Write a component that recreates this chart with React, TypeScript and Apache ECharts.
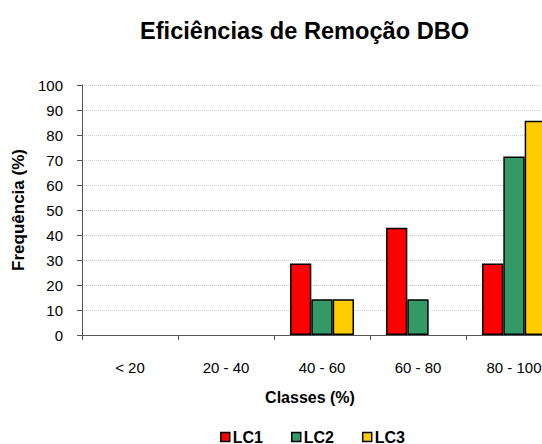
import React, { useEffect, useRef } from "react";
import * as echarts from "echarts";

const categories = ["< 20", "20 - 40", "40 - 60", "60 - 80", "80 - 100"];
const lc1 = [0, 0, 28.6, 42.9, 28.6];
const lc2 = [0, 0, 14.3, 14.3, 71.4];
const lc3 = [0, 0, 14.3, 0, 85.7];
const seriesNames = ["LC1", "LC2", "LC3"];
const seriesColors = ["#FF0000", "#339966", "#FFCC00"];
const yTicks = { min: 0, max: 100, interval: 10 };

const FONT = "Liberation Sans, Arial, sans-serif";
const NARROW = "Liberation Sans Narrow, Arial Narrow, Liberation Sans, sans-serif";

export default function App() {
  const ref = useRef<HTMLDivElement>(null);
  useEffect(() => {
    if (!ref.current) return;
    const chart = echarts.init(ref.current, undefined, { renderer: "svg" });
    const data = [lc1, lc2, lc3];
    chart.setOption({
      animation: false,
      backgroundColor: "#ffffff",
      textStyle: { fontFamily: FONT },
      title: {
        text: "Eficiências de Remoção DBO",
        left: 140,
        top: 19,
        padding: 0,
        textStyle: { fontFamily: FONT, fontSize: 23.6, fontWeight: "bold", color: "#000" },
      },
      legend: {
        left: 220,
        top: 429,
        padding: 0,
        itemWidth: 9,
        itemHeight: 9,
        itemGap: 28,
        data: seriesNames.map((n, i) => ({
          name: n,
          icon: "rect",
          itemStyle: { color: seriesColors[i], borderColor: "#000", borderWidth: 1.5 },
        })),
        textStyle: { fontFamily: FONT, fontSize: 16, fontWeight: "bold", color: "#000", padding: [0, 0, 0, -2] },
      },
      grid: { left: 82, top: 85, width: 480, height: 250 },
      xAxis: {
        type: "category",
        data: categories,
        name: "Classes (%)",
        nameLocation: "middle",
        nameGap: 54,
        nameTextStyle: { fontFamily: FONT, fontSize: 16, fontWeight: "bold", color: "#000", padding: [0, 24, 0, 0] },
        axisLine: { lineStyle: { color: "#555", width: 1 } },
        axisTick: { show: true, alignWithLabel: false, length: 5, lineStyle: { color: "#555" } },
        axisLabel: { color: "#000", fontSize: 15, margin: 25, fontFamily: NARROW },
        splitLine: { show: false },
      },
      yAxis: {
        type: "value",
        min: yTicks.min,
        max: yTicks.max,
        interval: yTicks.interval,
        name: "Frequência (%)",
        nameLocation: "middle",
        nameGap: 52,
        nameRotate: 90,
        nameTextStyle: { fontFamily: FONT, fontSize: 17, fontWeight: "bold", color: "#000" },
        axisLine: { show: true, lineStyle: { color: "#555", width: 1 } },
        axisTick: { show: true, length: 5, lineStyle: { color: "#555" } },
        axisLabel: { color: "#000", fontSize: 15, margin: 19, fontFamily: NARROW },
        splitLine: { show: true, lineStyle: { color: "#d0d0d0", type: "dotted", width: 1 } },
      },
      series: seriesNames.map((n, i) => ({
        name: n,
        type: "bar",
        data: data[i].map((v) => (v === 0 ? { value: v, itemStyle: { borderWidth: 0 } } : v)),
        barGap: "0%",
        barCategoryGap: "33.3%",
        itemStyle: { color: seriesColors[i], borderColor: "#000", borderWidth: 1.5 },
      })),
    });
    return () => chart.dispose();
  }, []);
  return (
    <div style={{ position: "fixed", left: 0, top: 0, width: 542, height: 444, overflow: "hidden", background: "#fff" }}>
      <div ref={ref} style={{ width: 570, height: 444 }} />
    </div>
  );
}
